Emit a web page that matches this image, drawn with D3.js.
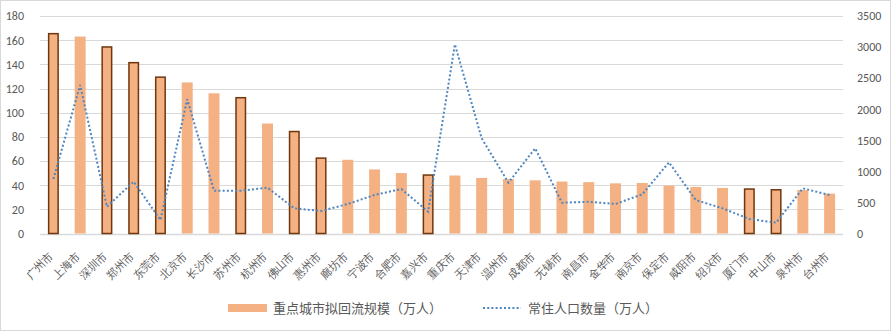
<!DOCTYPE html>
<html>
<head>
<meta charset="utf-8">
<script src="https://cdn.jsdelivr.net/npm/d3@7"></script>
<style>
  body { margin: 0; background: #fff; }
  svg { display: block; font-family: "Noto Sans CJK SC", "Noto Sans", sans-serif; }
</style>
</head>
<body>
<div id="chart"></div>
<script>
// cities, in chart order
const cities = ['广州市', '上海市', '深圳市', '郑州市', '东莞市', '北京市', '长沙市', '苏州市', '杭州市', '佛山市',
  '惠州市', '廊坊市', '宁波市', '合肥市', '嘉兴市', '重庆市', '天津市', '温州市', '成都市', '无锡市',
  '南昌市', '金华市', '南京市', '保定市', '咸阳市', '绍兴市', '厦门市', '中山市', '泉州市', '台州市'];

// 重点城市拟回流规模（万人）
const returnFlow = [166, 163, 155, 142, 130, 125, 116, 113, 91, 85,
  63, 61, 53, 50, 49, 48, 46, 45, 44, 43,
  42.5, 41.5, 41.8, 39.6, 38.5, 37.7, 37.4, 36.8, 36, 33];

// 常住人口数量（万人）
const population = [877, 2390, 431, 834, 217, 2160, 689, 689, 737, 405,
  362, 475, 620, 716, 351, 3044, 1532, 818, 1371, 496,
  510, 475, 630, 1145, 539, 405, 233, 174, 727, 620];

// bars drawn with a dark outline
const outlined = ['广州市', '深圳市', '郑州市', '东莞市', '苏州市', '佛山市', '惠州市', '嘉兴市', '厦门市', '中山市'];

const leftTicks = [0, 20, 40, 60, 80, 100, 120, 140, 160, 180];
const rightTicks = [0, 500, 1000, 1500, 2000, 2500, 3000, 3500];

const seriesNames = ['重点城市拟回流规模（万人）', '常住人口数量（万人）'];

const W = 891, H = 331;
const margin = { top: 16, right: 48, bottom: 97.5, left: 40 };
const width = W - margin.left - margin.right;
const height = H - margin.top - margin.bottom;

const barFill = '#f4b183';
const barStroke = '#70360c';
const lineColor = '#4f86c0';
const textColor = '#595959';
const gridColor = '#d9d9d9';

const svg = d3.select('#chart').append('svg')
  .attr('width', W)
  .attr('height', H);

svg.append('rect')
  .attr('x', 0.5).attr('y', 0.5)
  .attr('width', W - 1).attr('height', H - 1)
  .attr('fill', '#fff')
  .attr('stroke', gridColor);

const g = svg.append('g')
  .attr('transform', `translate(${margin.left}, ${margin.top})`);

const x = d3.scaleBand().domain(cities).range([0, width]).paddingInner(0.59).paddingOuter(0.295);
const yL = d3.scaleLinear().domain([0, 180]).range([height, 0]);
const yR = d3.scaleLinear().domain([0, 3500]).range([height, 0]);

// grid
g.append('g')
  .selectAll('line')
  .data(leftTicks)
  .enter()
  .append('line')
  .attr('x1', 0).attr('x2', width)
  .attr('y1', d => Math.round(yL(d)) + 0.5)
  .attr('y2', d => Math.round(yL(d)) + 0.5)
  .attr('stroke', gridColor)
  .attr('stroke-width', d => d === 0 ? 1.5 : 1);

const numFont = 'Calibri, Carlito, "Liberation Sans", "Noto Sans", sans-serif';

// left axis
const axisL = g.append('g')
  .call(d3.axisLeft(yL).tickValues(leftTicks).tickSize(0).tickPadding(16));
axisL.select('.domain').remove();
axisL.selectAll('text')
  .attr('fill', textColor)
  .style('font-size', '12px')
  .style('font-family', numFont);

// right axis
const axisR = g.append('g')
  .attr('transform', `translate(${width}, 0)`)
  .call(d3.axisRight(yR).tickValues(rightTicks).tickFormat(d3.format('d')).tickSize(0).tickPadding(14));
axisR.select('.domain').remove();
axisR.selectAll('text')
  .attr('fill', textColor)
  .style('font-size', '12px')
  .style('font-family', numFont);

// bars
const bars = cities.map((c, i) => ({ city: c, value: returnFlow[i], outlined: outlined.includes(c) }));
g.append('g')
  .selectAll('rect')
  .data(bars)
  .enter()
  .append('rect')
  .attr('x', d => x(d.city) + (d.outlined ? 0.75 : 0))
  .attr('y', d => yL(d.value) + (d.outlined ? 0.75 : 0))
  .attr('width', d => x.bandwidth() - (d.outlined ? 1.5 : 0))
  .attr('height', d => height - yL(d.value) - (d.outlined ? 0.75 : 0))
  .attr('fill', barFill)
  .attr('stroke', d => d.outlined ? barStroke : 'none')
  .attr('stroke-width', 1.5);

// population line
const line = d3.line()
  .x((d, i) => x(cities[i]) + x.bandwidth() / 2)
  .y(d => yR(d));

g.append('path')
  .datum(population)
  .attr('fill', 'none')
  .attr('stroke', lineColor)
  .attr('stroke-width', 2)
  .attr('stroke-dasharray', '2,2.2')
  .attr('d', line);

// x labels, rotated
const axisX = g.append('g')
  .attr('transform', `translate(0, ${height})`)
  .call(d3.axisBottom(x).tickSize(0).tickPadding(0));
axisX.select('.domain').remove();
axisX.selectAll('text')
  .attr('fill', textColor)
  .style('font-size', '11px')
  .attr('text-anchor', 'end')
  .attr('dy', 0)
  .attr('y', 0)
  .attr('transform', 'translate(0.6, 23.3) rotate(-45)');

// legend
const legend = svg.append('g');
legend.append('rect')
  .attr('x', 228).attr('y', 304)
  .attr('width', 39).attr('height', 8)
  .attr('fill', barFill);
legend.append('text')
  .attr('x', 273).attr('y', 313)
  .attr('fill', textColor)
  .style('font-size', '13px')
  .text(seriesNames[0]);
legend.append('line')
  .attr('x1', 483).attr('x2', 521)
  .attr('y1', 308).attr('y2', 308)
  .attr('stroke', lineColor)
  .attr('stroke-width', 2)
  .attr('stroke-dasharray', '2,2.2');
legend.append('text')
  .attr('x', 528).attr('y', 313)
  .attr('fill', textColor)
  .style('font-size', '13px')
  .text(seriesNames[1]);
</script>
</body>
</html>
